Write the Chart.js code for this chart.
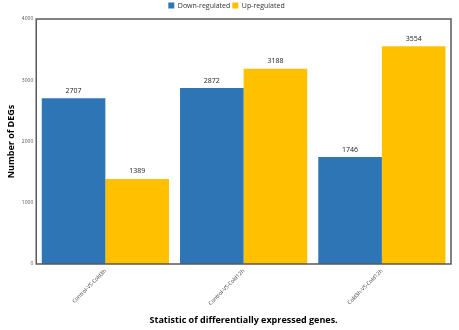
<!DOCTYPE html>
<html>
<head>
<meta charset="utf-8">
<script src="https://cdn.jsdelivr.net/npm/chart.js@4"></script>
<style>
  html, body { margin: 0; padding: 0; background: #fff; }
  #wrap { width: 459px; height: 330px; }
</style>
</head>
<body>
<div id="wrap"><canvas id="c" width="459" height="330"></canvas></div>
<script>
const categories = ["Control-VS-Cold3h", "Control-VS-Cold12h", "Cold3h-VS-Cold12h"];
const downRegulated = [2707, 2872, 1746];
const upRegulated = [1389, 3188, 3554];
const yTicks = [0, 1000, 2000, 3000, 4000];

// bar value labels + plot frame
const barLabels = {
  id: "barLabels",
  afterDatasetsDraw(chart) {
    const ctx = chart.ctx;
    ctx.save();
    ctx.font = "7px 'Open Sans'";
    ctx.fillStyle = "#222";
    ctx.textAlign = "center";
    ctx.textBaseline = "bottom";
    chart.data.datasets.forEach((ds, i) => {
      chart.getDatasetMeta(i).data.forEach((bar, j) => {
        ctx.fillText(ds.data[j], bar.x, bar.y - 4);
      });
    });
    const a = chart.chartArea;
    ctx.strokeStyle = "#595959";
    ctx.lineWidth = 1.5;
    ctx.strokeRect(a.left, a.top, a.right - a.left, a.bottom - a.top);
    ctx.restore();
  }
};

new Chart(document.getElementById("c"), {
  type: "bar",
  data: {
    labels: categories,
    datasets: [
      { label: "Down-regulated", data: downRegulated, backgroundColor: "#2E75B6" },
      { label: "Up-regulated", data: upRegulated, backgroundColor: "#FFC000" }
    ]
  },
  options: {
    responsive: false,
    animation: false,
    categoryPercentage: 0.92,
    barPercentage: 1,
    layout: { padding: { top: 0, right: 8, left: 2, bottom: 4 } },
    scales: {
      x: {
        afterFit(axis) { axis.height = 62; },
        grid: { display: false, drawTicks: false },
        border: { display: false },
        ticks: { minRotation: 45, maxRotation: 45, padding: 4, font: { size: 5.3, family: "Open Sans" }, color: "#333" },
        title: { display: true, text: "Statistic of differentially expressed genes.", font: { size: 9, weight: "bold", family: "Open Sans" }, color: "#000", padding: { top: 0, bottom: 0 } }
      },
      y: {
        min: 0, max: 4000,
        afterBuildTicks(axis) { axis.ticks = yTicks.map(v => ({ value: v })); },
        grid: { display: false, drawTicks: false },
        border: { display: false },
        ticks: { padding: 3, font: { size: 5, family: "Open Sans" }, color: "#555", callback: v => String(v) },
        title: { display: true, text: "Number of DEGs", font: { size: 9, weight: "bold", family: "Open Sans" }, color: "#000", padding: { bottom: 2 } }
      }
    },
    plugins: {
      legend: {
        position: "top",
        labels: { boxWidth: 6, boxHeight: 6, padding: 2, font: { size: 7, family: "Open Sans" }, color: "#333" }
      },
      tooltip: { enabled: false }
    }
  },
  plugins: [barLabels]
});
</script>
</body>
</html>
